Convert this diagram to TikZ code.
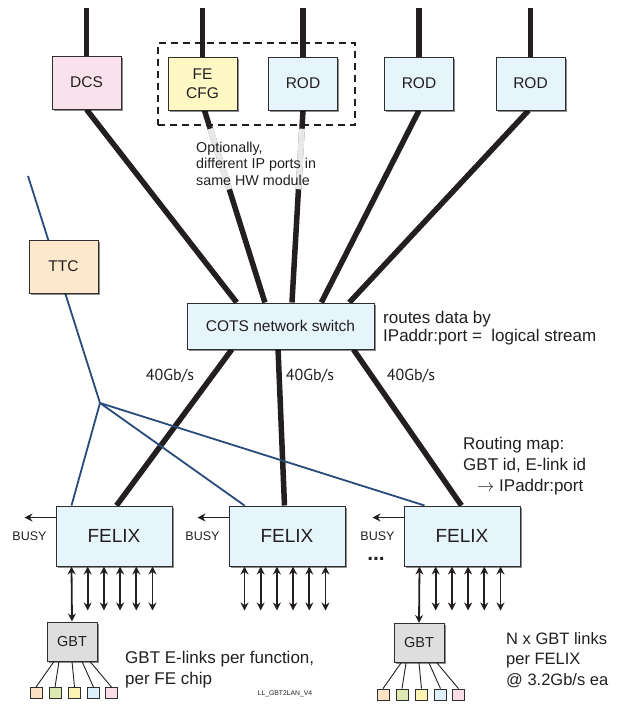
\documentclass[tikz,border=0pt]{standalone}
\usepackage{fontspec}
\setmainfont{Liberation Sans}
\newfontfamily\myriad{PT Sans}
\usetikzlibrary{shadows,arrows.meta,calc,backgrounds}
\definecolor{ink}{HTML}{231F20}
\definecolor{boxline}{HTML}{2E2E2E}
\definecolor{pinkf}{HTML}{F9E2EC}
\definecolor{yellowf}{HTML}{FFF8C4}
\definecolor{bluef}{HTML}{E6F4FC}
\definecolor{peachf}{HTML}{FDE8CC}
\definecolor{greyf}{HTML}{DEDEDE}
\definecolor{ttcblue}{HTML}{284B7C}
\definecolor{fade}{HTML}{E8E8E8}
\definecolor{sqa}{HTML}{FCE3C4}
\definecolor{sqb}{HTML}{DCE9B2}
\definecolor{sqc}{HTML}{FCF4B4}
\definecolor{sqd}{HTML}{DDF0FB}
\definecolor{sqe}{HTML}{F9DDE9}
\tikzset{
  every node/.style={text=ink},
  box/.style={draw=boxline, line width=1pt, inner sep=0pt, align=center,
    drop shadow={shadow xshift=1.8pt, shadow yshift=-1.8pt, opacity=0.45, fill=black}},
  topbox/.style={box, minimum width=69pt, minimum height=53pt, font=\fontsize{15.5}{19}\selectfont},
  felixbox/.style={box, fill=bluef, minimum width=116pt, minimum height=60pt, font=\fontsize{19}{22}\selectfont},
  gbtbox/.style={box, fill=greyf, minimum width=50pt, minimum height=39pt, font=\fontsize{14.5}{17}\selectfont},
  sqbox/.style={draw=boxline, line width=0.8pt, inner sep=0pt, minimum width=12pt, minimum height=11pt,
    drop shadow={shadow xshift=0.9pt, shadow yshift=-0.9pt, opacity=0.35, fill=black}},
  dashbox/.style={draw=ink, line width=1.6pt, dash pattern=on 7pt off 5pt, inner sep=0pt},
  fat/.style={draw=ink, line width=5.5pt},
  fadeline/.style={draw=fade, line width=5.9pt},
  ttcline/.style={draw=ttcblue, line width=1.8pt},
  thinline/.style={draw=ink, line width=0.9pt},
  darr/.style={draw=ink, line width=1.8pt, {Stealth[length=8pt,width=8pt]}-{Stealth[length=8pt,width=8pt]}},
  busyarr/.style={draw=ink, line width=1.8pt, -{Stealth[length=8pt,width=8pt]}},
  lbl/.style={inner sep=0pt, anchor=base west},
  big/.style={lbl, font=\fontsize{17}{21}\selectfont},
}
\begin{document}
\begin{tikzpicture}[x=1pt,y=-1pt]
\useasboundingbox (0,0) rectangle (621,704);
% boxes
\node[topbox, fill=pinkf] (dcs) at (86.5,82.5) {DCS};
\node[topbox, fill=yellowf] (fecfg) at (202.5,83.5) {FE\\CFG};
\node[topbox, fill=bluef] (rod1) at (303,83.5) {ROD};
\node[topbox, fill=bluef] (rod2) at (419,83.5) {ROD};
\node[topbox, fill=bluef] (rod3) at (530.5,83.5) {ROD};
\node[dashbox, minimum width=197pt, minimum height=82pt] (grp) at (256.5,84) {};
\node[topbox, fill=peachf] (ttc) at (63.5,266.5) {TTC};
\node[box, fill=bluef, minimum width=187pt, minimum height=46pt, font=\fontsize{15.5}{19}\selectfont] (sw) at (280.5,326) {COTS network switch};
\node[felixbox] (f1) at (114,536) {FELIX};
\node[felixbox] (f2) at (287,536) {FELIX};
\node[felixbox] (f3) at (462,536) {FELIX};
\node[gbtbox] (g1) at (72,641.5) {GBT};
\node[gbtbox] (g3) at (419,643) {GBT};
% small E-link squares
\foreach \c/\dx/\sx [count=\k] in {sqa/-36/-18, sqb/-17/-13, sqc/2.5/0, sqd/21.5/10, sqe/39.5/18}{
  \node[sqbox, fill=\c] (ga\k) at ($(g1.south)+(\dx,31.5)$) {};
  \draw[thinline] ($(g1.south)+(\sx,0)$) -- (ga\k.north);
  \node[sqbox, fill=\c] (gc\k) at ($(g3.south)+(\dx,31.5)$) {};
  \draw[thinline] ($(g3.south)+(\sx,0)$) -- (gc\k.north);
}
% coordinates
\coordinate (topline) at (0,8);
\coordinate (s1) at ($(sw.north west)!0.267!(sw.north east)$);
\coordinate (s2) at ($(sw.north west)!0.417!(sw.north east)$);
\coordinate (s3) at ($(sw.north west)!0.561!(sw.north east)$);
\coordinate (s4) at ($(sw.north west)!0.717!(sw.north east)$);
\coordinate (s5) at ($(sw.north west)!0.866!(sw.north east)$);
\coordinate (b1) at ($(sw.south west)!0.241!(sw.south east)$);
\coordinate (b2) at ($(sw.south west)!0.487!(sw.south east)$);
\coordinate (b3) at ($(sw.south west)!0.888!(sw.south east)$);
\coordinate (ttcstart) at (28,176);
\coordinate (junc) at (100,403);
\begin{pgfonlayer}{background}
  \fill[white] (0,0) rectangle (621,704);
  \draw[fat] (dcs.north) -- (dcs.north |- topline);
  \draw[fat] (fecfg.north) -- (fecfg.north |- topline);
  \draw[fat] (rod1.north) -- (rod1.north |- topline);
  \draw[fat] (rod2.north) -- (rod2.north |- topline);
  \draw[fat] (rod3.north) -- (rod3.north |- topline);
  \draw[fat] (dcs.south) -- (s1);
  \draw[fat] ($(fecfg.south)+(2,0)$) -- (s2);
  \draw[fat] (rod1.south) -- (s3);
  \draw[fat] (rod2.south) -- (s4);
  \draw[fat] ($(rod3.south)+(-2,0)$) -- (s5);
  \draw[fadeline] ($($(fecfg.south)+(2,0)$)!0.095!(s2)$) -- ($($(fecfg.south)+(2,0)$)!0.41!(s2)$);
  \draw[fadeline] ($(rod1.south)!0.095!(s3)$) -- ($(rod1.south)!0.41!(s3)$);
  \draw[fat] (b1) -- ($(f1.north west)+(61,0)$);
  \draw[fat] (b2) -- ($(f2.north west)+(56,0)$);
  \draw[fat] (b3) -- ($(f3.north west)+(58,0)$);
  \draw[ttcline] (ttcstart) -- (junc);
  \draw[ttcline] (junc) -- ($(f1.north west)+(16,0)$);
  \draw[ttcline] (junc) -- ($(f2.north west)+(16,0)$);
  \draw[ttcline] (junc) -- ($(f3.north west)+(21,0)$);
\end{pgfonlayer}
% busy arrows and labels
\foreach \f in {f1,f2,f3}{
  \draw[busyarr] ($(\f.north west)+(0,12)$) -- ++(-31,0);
  \node[inner sep=0pt, font=\fontsize{12.5}{14}\selectfont] at ($(\f.west)+(-26,0)$) {BUSY};
}
\node[inner sep=0pt, anchor=base, font=\bfseries\fontsize{21}{21}\selectfont] (dots) at (376,560) {...};
% link arrows
\draw[darr] ($(f1.south west)+(16,0)$) -- (g1.north);
\draw[darr] ($(f3.south west)+(16,0)$) -- (g3.north);
\foreach \i in {1,...,5}{
  \draw[darr] ($(f1.south west)+(16+16.2*\i,0)$) -- ++(0,44);
  \draw[darr] ($(f3.south west)+(16+16.2*\i,0)$) -- ++(0,44);
}
\foreach \i in {0,...,5}{
  \draw[darr] ($(f2.south west)+(16+16.2*\i,0)$) -- ++(0,44);
}
% texts
\node[lbl, font=\fontsize{14.3}{17}\selectfont] (o1) at (196,152) {Optionally,};
\node[lbl, font=\fontsize{14.3}{17}\selectfont] (o2) at (196,168.5) {different IP ports in};
\node[lbl, font=\fontsize{14.3}{17}\selectfont] (o3) at (196,185.5) {same HW module};
\node[big] (r1) at (383,323) {routes data by};
\node[big] (r2) at (383,341) {IPaddr:port = \ logical stream};
\foreach \x in {170,310,411}{
  \node[inner sep=0pt, anchor=base, font=\myriad\fontsize{16}{18}\selectfont] at (\x,380.5) {40Gb/s};
}
\node[big] (m1) at (463,449) {Routing map:};
\node[big] (m2) at (463,470) {GBT id, E-link id};
\node[big] (m3) at (477,491) {$\rightarrow$ IPaddr:port};
\node[big] (e1) at (125,663) {GBT E-links per function,};
\node[big] (e2) at (125,684) {per FE chip};
\node[lbl, font=\fontsize{16.5}{20}\selectfont] (n1) at (506,644) {N x GBT links};
\node[lbl, font=\fontsize{16.5}{20}\selectfont] (n2) at (506,664.5) {per FELIX};
\node[lbl, font=\fontsize{16.5}{20}\selectfont] (n3) at (506,685) {@ 3.2Gb/s ea};
\node[inner sep=0pt, font=\fontsize{6.8}{8}\selectfont] (ver) at (285,694) {LL\_GBT2LAN\_V4};
\end{tikzpicture}
\end{document}
